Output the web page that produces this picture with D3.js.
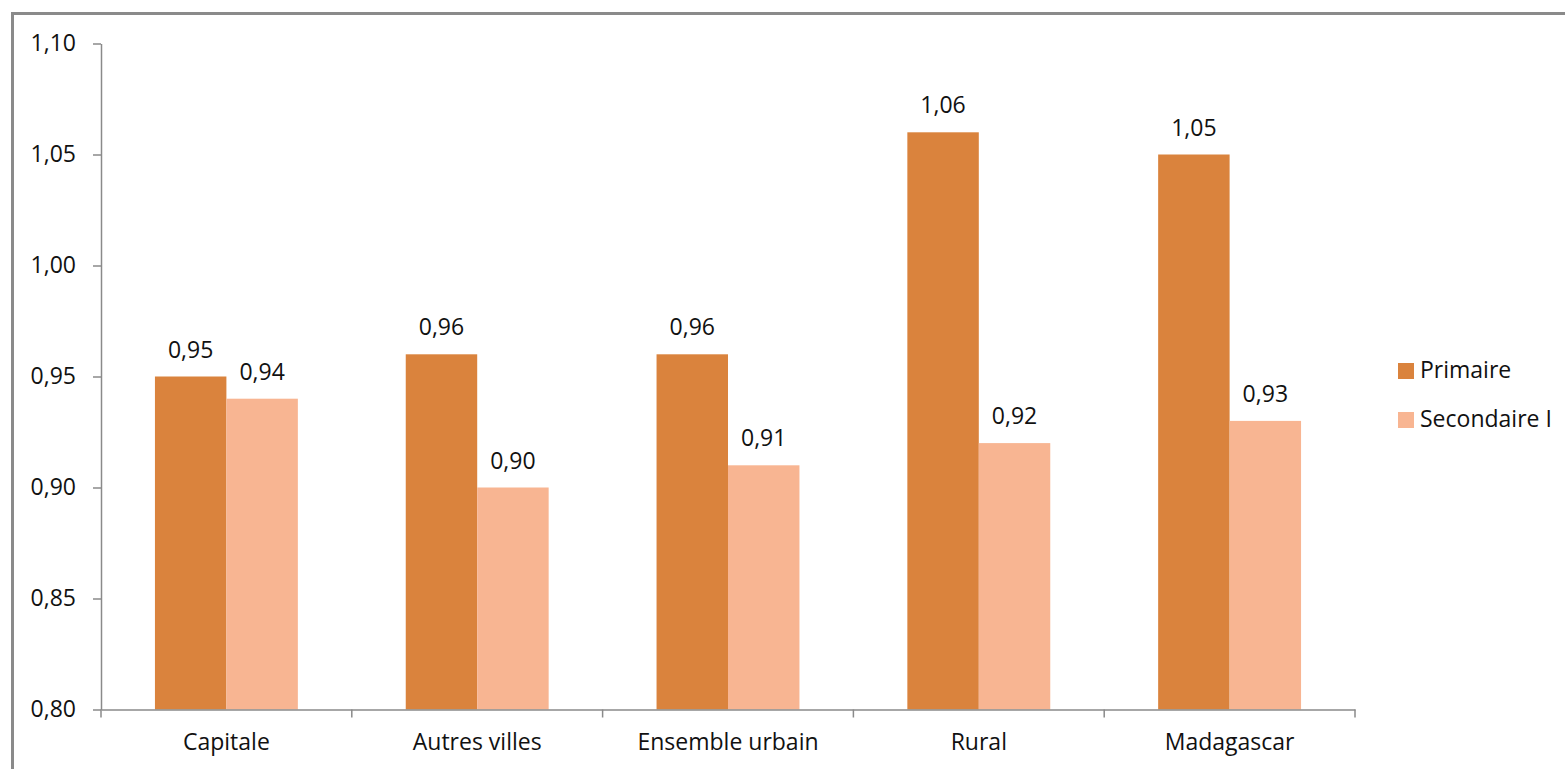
<!DOCTYPE html>
<html>
<head>
<meta charset="utf-8">
<script src="https://cdn.jsdelivr.net/npm/d3@7"></script>
<style>
  body { margin: 0; background: #fff; }
  text { font-family: "Open Sans", sans-serif; fill: #111; }
</style>
</head>
<body>
<div id="chart"></div>
<script>
// Données du graphique
const categories = ['Capitale', 'Autres villes', 'Ensemble urbain', 'Rural', 'Madagascar'];
const primaire = [0.95, 0.96, 0.96, 1.06, 1.05];
const secondaire = [0.94, 0.90, 0.91, 0.92, 0.93];
const seriesNames = ['Primaire', 'Secondaire I'];
const yTicks = [0.80, 0.85, 0.90, 0.95, 1.00, 1.05, 1.10];

const width = 1565, height = 769;
const colors = ['#DA833D', '#F8B592'];
const fontSize = 23;
const fmt = d => d3.format('.2f')(d).replace('.', ',');

const svg = d3.select('#chart').append('svg')
    .attr('width', width)
    .attr('height', height);

// Cadre
svg.append('rect')
    .attr('x', 12.5).attr('y', 13.5)
    .attr('width', width + 20).attr('height', height + 20)
    .attr('fill', 'none')
    .attr('stroke', '#8a8a8a')
    .attr('stroke-width', 3);

const plot = { left: 101, right: 1355, top: 43.5, bottom: 709.5 };

const x = d3.scaleBand()
    .domain(categories)
    .range([plot.left, plot.right])
    .paddingInner(0)
    .paddingOuter(0);

const x1 = d3.scaleBand()
    .domain(seriesNames)
    .range([0, x.bandwidth()])
    .paddingOuter(0.755)
    .paddingInner(0);

const y = d3.scaleLinear()
    .domain([0.80, 1.10])
    .range([plot.bottom, plot.top]);

const data = categories.map((c, i) => ({ cat: c, values: [primaire[i], secondaire[i]] }));

// Barres
const groups = svg.selectAll('g.cat')
    .data(data)
    .enter().append('g')
    .attr('class', 'cat')
    .attr('transform', d => `translate(${x(d.cat)},0)`);

groups.selectAll('rect')
    .data(d => d.values.map((v, j) => ({ name: seriesNames[j], v: v, j: j })))
    .enter().append('rect')
    .attr('x', d => x1(d.name))
    .attr('y', d => y(d.v))
    .attr('width', x1.bandwidth())
    .attr('height', d => y(0.80) - y(d.v))
    .attr('fill', d => colors[d.j]);

// Étiquettes des valeurs
groups.selectAll('text.val')
    .data(d => d.values.map((v, j) => ({ name: seriesNames[j], v: v })))
    .enter().append('text')
    .attr('class', 'val')
    .attr('x', d => x1(d.name) + x1.bandwidth() / 2)
    .attr('y', d => y(d.v) - 19)
    .attr('text-anchor', 'middle')
    .attr('font-size', fontSize)
    .text(d => fmt(d.v));

// Axe Y
const yAxis = svg.append('g')
    .attr('transform', `translate(${plot.left},0)`)
    .call(d3.axisLeft(y).tickValues(yTicks).tickFormat(fmt).tickSize(8).tickPadding(17).tickSizeOuter(0));
yAxis.select('.domain').attr('stroke', '#8a8a8a').attr('stroke-width', 1.5);
yAxis.selectAll('.tick line').attr('stroke', '#8a8a8a').attr('stroke-width', 1.5);
yAxis.selectAll('.tick text').attr('font-size', fontSize).attr('fill', '#111')
    .attr('font-family', '"Open Sans", sans-serif');

// Axe X
const xAxis = svg.append('g')
    .attr('transform', `translate(0,${plot.bottom})`)
    .call(d3.axisBottom(x).tickSize(0).tickPadding(24));
xAxis.select('.domain').attr('stroke', '#8a8a8a').attr('stroke-width', 1.5);
xAxis.selectAll('.tick text').attr('font-size', fontSize).attr('fill', '#111')
    .attr('font-family', '"Open Sans", sans-serif');

// Graduations entre les catégories
const bounds = categories.map(c => x(c)).concat([plot.right]);
svg.selectAll('line.sep')
    .data(bounds)
    .enter().append('line')
    .attr('class', 'sep')
    .attr('x1', d => d).attr('x2', d => d)
    .attr('y1', plot.bottom).attr('y2', plot.bottom + 8)
    .attr('stroke', '#8a8a8a')
    .attr('stroke-width', 1.5);

// Légende
const legend = svg.selectAll('g.leg')
    .data(seriesNames)
    .enter().append('g')
    .attr('class', 'leg')
    .attr('transform', (d, i) => `translate(1398,${363 + i * 49})`);

legend.append('rect')
    .attr('width', 16).attr('height', 16)
    .attr('fill', (d, i) => colors[i]);

legend.append('text')
    .attr('x', 22)
    .attr('y', 15)
    .attr('font-size', fontSize)
    .text(d => d);
</script>
</body>
</html>
